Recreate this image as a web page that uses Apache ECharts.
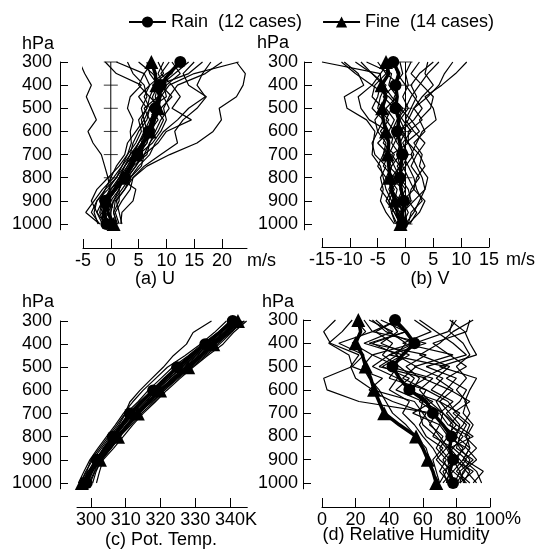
<!DOCTYPE html>
<html><head><meta charset="utf-8">
<script src="https://cdn.jsdelivr.net/npm/echarts@6/dist/echarts.min.js"></script>
<style>html,body{margin:0;padding:0;background:#fff}#c{width:546px;height:556px}</style>
</head><body><div id="c"></div>
<script>
const FONT = 'Liberation Sans';
// pressure levels (hPa), bottom to top
const P = [1000,950,900,850,800,750,700,650,600,550,500,450,400,350,300];
const Y_TICKS = [300,400,500,600,700,800,900,1000];
const U_TICKS = [-5,0,5,10,15,20];
const V_TICKS = [-15,-10,-5,0,5,10,15];
const TH_TICKS = [300,310,320,330,340];
const RH_TICKS = [0,20,40,60,80,100];
const RAIN = 'Rain  (12 cases)';
const FINE = 'Fine  (14 cases)';

// (a) U m/s, individual cases (values at P)
const U_CASES = [
 [-0.3,-1.8,-1.2,-0.2,-0.5,-1.1,-1.7,-3.2,-4.1,-2.6,-3.5,-4.4,-3.5,-4.7,-5.6],
 [1.2,0.5,0.8,2.5,4.0,6.5,10.6,15.5,18.4,19.9,19.5,22.6,23.8,24.2,22.6],
 [-1.0,-2.5,-1.5,0.5,1.5,2.5,4.0,5.0,6.5,7.5,8.0,9.0,10.5,15.0,23.0],
 [0.0,-0.5,0.5,2.0,3.5,5.0,7.0,8.0,9.5,12.0,14.0,17.0,15.5,16.5,18.0],
 [1.5,0.8,2.0,3.5,4.0,6.0,9.0,12.0,11.5,13.0,15.5,17.2,14.0,13.0,15.0],
 [-1.5,-1.5,-0.5,1.0,3.0,4.5,6.0,8.5,10.0,14.5,11.0,12.5,11.0,9.0,10.5],
 [-2.0,-4.5,-3.0,-1.5,0.5,2.0,3.0,3.7,3.5,4.0,3.0,3.5,5.5,1.0,-1.0],
 [-1.5,-2.5,-3.5,-2.5,-0.5,1.5,3.0,4.5,5.5,5.0,6.5,7.0,5.0,6.0,1.0],
 [0.5,-0.5,-1.0,0.0,2.0,3.5,5.5,6.0,7.5,8.0,9.0,7.0,8.0,11.0,12.0],
 [-0.5,-1.0,-2.0,-1.0,1.0,2.5,3.5,4.0,5.0,6.5,7.0,10.0,9.5,8.5,9.5],
 [0.8,-1.0,0.0,1.5,2.5,4.0,6.5,7.0,8.0,9.0,10.5,9.5,7.5,10.0,13.5],
 [-1.2,-2.0,-1.5,0.5,2.0,3.0,4.0,5.5,6.0,7.0,8.5,8.0,8.5,7.0,6.5],
 [1.0,0.5,1.5,1.5,2.5,3.5,5.0,7.5,9.0,10.0,9.5,10.5,12.0,17.0,20.0],
 [-2.3,-3.0,-2.5,-1.0,0.0,1.0,2.5,3.0,4.5,6.0,5.5,6.5,6.0,4.0,3.0],
 [1.8,2.0,4.0,4.5,1.5,3.0,4.5,6.5,7.0,8.5,7.5,8.5,10.0,12.5,11.0],
 [-1.0,-1.5,-1.0,0.0,1.5,2.5,4.0,5.0,6.5,6.0,7.0,6.0,7.0,9.5,8.5],
 [-0.5,-1.0,-0.5,1.0,3.0,4.5,5.5,6.0,8.0,7.0,6.0,8.5,9.5,7.5,5.0],
 [0.0,0.0,0.5,1.5,2.0,3.5,5.0,6.5,7.0,8.0,9.0,11.0,9.0,11.5,14.0],
 [2.0,1.5,1.0,2.5,3.5,5.5,6.0,7.0,8.5,9.5,8.0,7.5,8.5,14.0,16.5],
 [-2.0,-3.5,-2.5,-0.5,1.0,2.0,3.5,5.0,6.0,5.5,6.5,5.0,7.0,6.0,7.5]
];
const U_RAIN = [-0.8,-1.2,-1.0,0.8,2.6,3.8,4.8,5.8,6.8,7.4,8.0,8.8,9.0,10.5,12.5];
const U_FINE = [0.5,-0.5,-0.8,0.8,2.3,3.5,4.5,5.8,7.0,7.8,8.5,8.8,8.2,8.0,7.3];

// (b) V m/s
const V_CASES = [
 [-0.5,-1.0,-2.5,-3.5,-4.0,-4.5,-6.0,-5.8,-5.5,-7.0,-10.5,-11.0,-7.5,-8.5,-11.0],
 [0.0,1.5,2.5,3.5,3.0,2.0,1.0,2.0,3.0,5.5,5.0,3.5,6.5,9.0,11.0],
 [-1.0,-0.5,1.0,0.5,-1.0,-2.0,-3.0,-2.0,-1.0,0.5,1.5,4.0,6.0,7.0,8.5],
 [-0.8,-2.0,-3.0,-2.0,-3.5,-2.5,-4.0,-3.5,-5.0,-4.0,-6.0,-5.0,-4.5,-4.5,-15.0],
 [0.5,1.0,3.0,2.0,1.5,0.5,-0.5,0.0,2.5,1.0,-1.0,-3.0,-6.0,-9.0,-11.5],
 [-1.5,-2.5,-1.0,-2.5,-1.0,-3.0,-2.0,-4.0,-3.0,-2.0,-3.5,-1.5,-3.0,-2.5,-7.0],
 [0.8,2.0,0.5,1.0,2.5,1.0,2.0,3.5,1.5,0.0,1.0,2.0,1.0,2.5,5.0],
 [-0.3,-1.5,-2.0,-3.0,-2.0,-1.0,-1.5,-1.0,0.0,-1.0,0.5,-0.5,0.5,0.0,1.0],
 [-2.0,-3.5,-4.5,-4.0,-4.5,-3.5,-5.5,-6.0,-5.0,-5.5,-4.0,-6.0,-5.5,-3.5,-5.0],
 [0.2,-0.5,1.5,3.5,4.0,2.5,3.0,1.5,3.5,2.5,4.5,5.0,3.0,1.0,2.5],
 [-1.2,-1.0,-2.0,-1.5,-3.0,-2.5,-1.0,-2.5,-2.0,-3.5,-2.5,-2.0,-1.0,-3.5,-3.0],
 [-0.5,0.5,-0.5,1.5,0.5,-0.5,0.5,-0.5,1.0,-0.5,-2.0,-4.0,-2.0,-0.5,-1.0],
 [-1.0,-2.0,-3.5,-2.5,-2.0,-4.0,-3.0,-5.0,-3.0,-6.5,-8.0,-8.5,-6.0,-4.5,-3.0],
 [0.3,0.0,-1.0,0.0,-1.5,0.0,1.5,0.5,-1.0,1.5,3.0,1.5,0.0,-1.5,-2.0],
 [-1.8,-2.5,-3.0,-4.5,-3.5,-5.0,-4.0,-3.0,-4.5,-3.0,-5.0,-4.5,-3.5,-6.0,-9.0],
 [0.5,2.5,3.5,1.5,2.0,3.5,2.5,0.5,-0.5,-1.5,0.0,1.0,2.5,4.0,6.0],
 [-0.2,-1.0,0.0,-1.0,0.0,-1.5,0.0,-1.5,-2.5,-1.5,-0.5,-2.5,-4.0,-6.0,-8.0],
 [-1.5,-0.5,-1.5,-0.5,-2.5,-1.0,-2.5,0.5,0.5,3.0,1.5,3.0,5.0,3.5,4.0]
];
const V_RAIN = [-0.6,-0.5,-0.3,-0.8,-1.0,-0.8,-0.6,-1.0,-1.5,-1.2,-1.8,-1.5,-1.8,-1.2,-2.2];
const V_FINE = [-0.9,-1.5,-1.9,-2.5,-2.8,-3.0,-3.2,-3.0,-3.5,-4.0,-4.2,-3.5,-4.3,-3.0,-3.5];

// (c) potential temperature K
const TH_CASES = [
 [297.0,298.8,300.0,302.5,305.0,307.5,309.8,311.2,314.1,317.4,320.8,323.7,327.5,329.4,334.7],
 [301.6,302.5,303.5,306.5,309.3,312.0,315.0,318.5,321.8,325.5,329.4,333.5,338.0,341.0,344.8],
 [296.4,298.0,299.7,302.0,304.5,307.0,309.3,312.0,315.0,318.5,322.0,327.0,331.5,335.5,339.0],
 [298.0,299.5,301.5,304.5,307.0,309.5,312.0,315.5,319.0,322.5,326.0,330.0,334.0,338.0,341.5],
 [299.5,301.0,302.5,305.0,308.0,310.5,313.0,316.5,320.5,324.5,328.5,332.5,336.5,340.0,343.5],
 [297.0,298.5,300.5,303.0,305.5,308.0,310.0,313.5,316.5,320.0,323.5,328.0,332.0,336.5,340.0],
 [300.5,301.5,303.0,305.5,307.5,311.0,314.0,317.0,320.0,323.0,327.0,331.0,335.5,339.5,342.5],
 [298.5,300.5,302.0,303.5,306.0,309.0,311.5,314.0,318.0,321.5,325.5,329.5,333.5,337.5,341.0],
 [299.0,299.8,301.0,304.0,306.8,309.5,312.5,316.0,318.5,322.0,326.5,330.5,334.5,339.0,344.0],
 [297.8,299.0,302.8,305.8,308.5,310.0,313.5,317.5,321.0,325.0,329.0,333.0,337.0,340.5,343.0],
 [298.2,300.0,301.8,304.2,306.8,309.0,311.8,315.0,318.5,322.5,326.0,330.0,334.0,338.5,342.0],
 [297.5,299.2,301.2,303.8,306.2,308.5,311.0,314.2,317.5,321.0,325.0,329.2,333.2,337.2,341.5],
 [299.8,301.2,303.2,305.8,308.2,311.5,314.5,318.0,321.2,324.5,328.2,332.0,336.0,340.2,344.2],
 [298.0,299.8,302.2,304.8,307.2,310.2,312.8,316.2,319.5,323.2,327.2,331.2,335.8,339.8,342.8]
];
const TH_RAIN = [298.8,300.2,301.7,304.0,306.3,308.8,311.2,314.5,317.9,321.3,324.8,328.8,332.9,337.0,340.8];
const TH_FINE = [297.4,300.0,302.6,305.2,307.8,310.6,313.5,316.7,319.9,324.0,328.0,331.6,335.2,338.8,342.3];

// (d) relative humidity %
const RH_CASES = [
 [80,85,88,82,78,84,88,85,88,92,70,92,88,85,76],
 [72,78,70,66,60,55,48,52,40,45,30,40,55,75,80],
 [90,96,85,92,85,88,80,75,62,40,45,30,55,38,30],
 [75,72,80,75,70,65,60,55,30,20,17,22,5,1,8],
 [82,90,78,85,88,75,70,78,65,72,55,78,48,65,55],
 [70,68,66,72,62,58,62,42,28,36,18,25,10,30,25],
 [85,82,90,80,82,86,78,88,76,60,74,40,62,30,45],
 [78,74,76,70,75,70,72,64,58,66,40,52,35,45,40],
 [95,92,84,88,80,82,76,70,50,62,34,45,30,50,40],
 [68,66,64,62,56,50,42,38,34,28,24,30,18,26,20],
 [88,80,86,78,84,76,82,70,78,68,76,58,70,78,90],
 [74,76,72,78,66,70,54,66,50,55,46,36,42,32,45],
 [84,88,82,76,90,80,72,60,44,52,36,48,25,42,28],
 [76,70,74,68,72,64,68,58,62,48,56,44,50,40,32],
 [92,86,80,84,76,78,72,68,74,80,62,86,78,68,58],
 [79,82,78,74,80,72,66,22,3,1,18,16,4,12,18],
 [86,78,84,88,86,90,84,86,80,86,80,88,84,76,78],
 [70,74,68,74,68,60,58,60,54,58,50,62,28,50,35],
 [82,84,92,86,74,80,74,82,86,74,86,76,66,86,88]
];
const RH_RAIN = [78,76,78,76,77,72,66,62,52,46,42,48,55,50,43.5];
const RH_FINE = [68,66,63,60,56,46,37,34,31,29,26,24,20,23,21.6];

const panels = [
 {cases:U_CASES, rain:U_RAIN, fine:U_FINE, ticks:U_TICKS, min:-5, max:24.5,
  grid:{left:83, top:62, width:164, height:167.8}, yOff:23, xOff:18.2, zero:true, yMargin:8},
 {cases:V_CASES, rain:V_RAIN, fine:V_FINE, ticks:V_TICKS, min:-15, max:15,
  grid:{left:322, top:62, width:167, height:167.8}, yOff:18, xOff:17.2, zero:true, yMargin:6},
 {cases:TH_CASES, rain:TH_RAIN, fine:TH_FINE, ticks:TH_TICKS, min:296, max:345,
  grid:{left:77, top:321, width:170.3, height:167.8}, yOff:17, xOff:18.2, zero:false, yMargin:8},
 {cases:RH_CASES, rain:RH_RAIN, fine:RH_FINE, ticks:RH_TICKS, min:0, max:100,
  grid:{left:322, top:320, width:168, height:168.8}, yOff:19, xOff:18.2, zero:false, yMargin:5}
];

const txt = {color:'#000', fontSize:18, fontFamily:FONT};
const plain = v => String(v);
const grids = [], xAxes = [], yAxes = [], series = [];
panels.forEach((pn, i) => {
  grids.push(Object.assign({containLabel:false}, pn.grid));
  xAxes.push({
    gridIndex:i, type:'value', position:'bottom', min:pn.min, max:pn.max, offset:pn.xOff,
    axisLine:{show:true, onZero:false, lineStyle:{color:'#000', width:1}},
    axisTick:{show:true, inside:true, length:9, customValues:pn.ticks, lineStyle:{color:'#000', width:1}},
    axisLabel:Object.assign({customValues:pn.ticks, margin:4, formatter:plain}, txt),
    splitLine:{show:false}
  });
  yAxes.push({
    gridIndex:i, type:'value', inverse:true, min:300, max:1025, offset:pn.yOff, position:'left',
    axisLine:{show:true, onZero:false, lineStyle:{color:'#000', width:1}},
    axisTick:{show:true, inside:true, length:8, customValues:Y_TICKS, lineStyle:{color:'#000', width:1}},
    axisLabel:Object.assign({customValues:Y_TICKS, margin:pn.yMargin, formatter:plain}, txt),
    splitLine:{show:false}
  });
  pn.cases.forEach(vals => series.push({
    type:'line', xAxisIndex:i, yAxisIndex:i, data:vals.map((v,k)=>[v,P[k]]),
    symbol:'none', clip:false, silent:true, z:2,
    lineStyle:{color:'#000', width:1.2}
  }));
  if (pn.zero) {
    series.push({type:'line', xAxisIndex:i, yAxisIndex:i, data:[[0,300],[0,1000]],
      symbol:'none', silent:true, z:1, lineStyle:{color:'#000', width:1}});
    series.push({type:'scatter', xAxisIndex:i, yAxisIndex:i, data:Y_TICKS.map(p=>[0,p]),
      symbol:'rect', symbolSize:[14,1], silent:true, z:1, itemStyle:{color:'#000'}});
  }
  const mk = (vals, name, sym, size) => ({
    type:'line', name:name, xAxisIndex:i, yAxisIndex:i, clip:false, z:5,
    symbol:sym, symbolSize:size, showSymbol:true, showAllSymbol:true,
    data:vals.map((v,k)=> P[k]%100===0 ? {value:[v,P[k]]} : {value:[v,P[k]], symbol:'none'}),
    lineStyle:{color:'#000', width:3.5}, itemStyle:{color:'#000'}
  });
  series.push(mk(pn.rain, RAIN, 'circle', 12));
  series.push(mk(pn.fine, FINE, 'triangle', 14));
});

const label = (text, x, y, align) => ({type:'text', x:x, y:y,
  style:{text:text, fill:'#000', font:'18px ' + FONT, align:align||'left', verticalAlign:'middle'}});

const chart = echarts.init(document.getElementById('c'), null, {renderer:'canvas'});
chart.setOption({
  animation:false,
  backgroundColor:'#fff',
  legend:{data:[RAIN, FINE], left:123, top:8, itemWidth:37, itemHeight:14, itemGap:20,
    textStyle:txt, selectedMode:false},
  grid:grids, xAxis:xAxes, yAxis:yAxes, series:series,
  graphic:[
    label('hPa', 22, 44), label('hPa', 257, 43), label('hPa', 22, 302), label('hPa', 262, 302),
    label('m/s', 247, 261), label('m/s', 506, 260), label('K', 245, 520), label('%', 505, 519),
    label('(a) U', 155, 279, 'center'), label('(b) V', 430, 279, 'center'),
    label('(c) Pot. Temp.', 161, 540, 'center'), label('(d) Relative Humidity', 406, 535, 'center')
  ]
});
</script></body></html>
